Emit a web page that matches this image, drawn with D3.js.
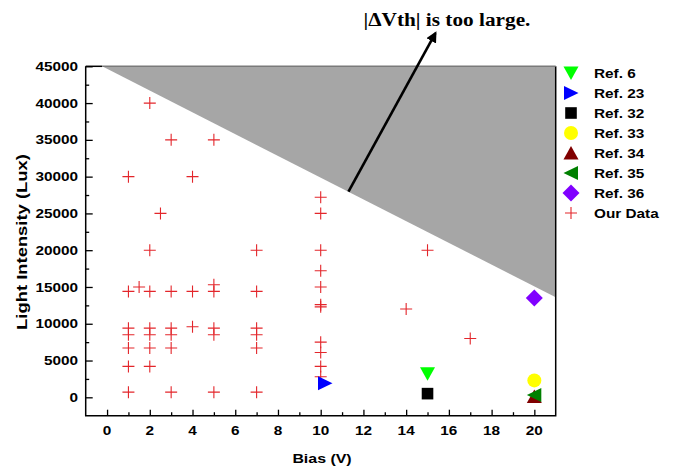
<!DOCTYPE html>
<html><head><meta charset="utf-8">
<script src="https://cdn.jsdelivr.net/npm/d3@7"></script>
<style>body{margin:0;background:#fff} svg{display:block}</style></head>
<body>
<script>
// ---- data ----
const xTickValues = [0, 2, 4, 6, 8, 10, 12, 14, 16, 18, 20];
const xMinorValues = [1, 3, 5, 7, 9, 11, 13, 15, 17, 19];
const yTickValues = [0, 5000, 10000, 15000, 20000, 25000, 30000, 35000, 40000, 45000];
const yMinorValues = [2500, 7500, 12500, 17500, 22500, 27500, 32500, 37500, 42500];

const ourDataX = [1,1,1,1,1,1,1, 1.5, 2,2,2,2,2,2,2, 2.5, 3,3,3,3,3,3, 4,4,4, 5,5,5,5,5,5, 7,7,7,7,7,7,
  10,10,10,10,10,10,10,10,10,10,10, 14, 15, 17];
const ourDataY = [30000,14400,9400,8500,6700,4200,700, 15000, 40000,20000,14400,9400,8500,6700,4200, 25000,
  35000,14400,9400,8500,6700,700, 30000,14400,9600, 35000,15300,14400,9400,8500,700,
  20000,14400,9400,8500,6700,700,
  27200,25000,20000,17200,15000,12600,12300,7500,6100,4200,2800, 12000, 20000, 8000];

const refNames = ["Ref. 6", "Ref. 23", "Ref. 32", "Ref. 33", "Ref. 34", "Ref. 35", "Ref. 36"];
const refX = [15, 10.2, 15, 20, 20, 20, 20];
const refY = [3200, 1900, 500, 2300, 100, 300, 13500];
const refColors = ["#00ff00", "#0000ff", "#000000", "#ffff00", "#800000", "#008000", "#8000ff"];
const refShapes = ["down", "right", "square", "circle", "up", "left", "diamond"];
const ourDataName = "Our Data";

const shadeX = [-0.23, 21, 21];
const shadeY = [45000, 45000, 13600];
const arrowX = [11.3, 15.37];
const arrowY = [27950, 49500];
const noteText = "|\u0394Vth| is too large.";

// ---- drawing ----
const W = 675, H = 468;
const svg = d3.select("body").append("svg").attr("width", W).attr("height", H);
const x = d3.scaleLinear().domain([-1, 21]).range([85.7, 555.7]);
const y = d3.scaleLinear().domain([-2500, 45000]).range([415.7, 66.3]);
const SX = 1.18;
const sans = "Arial, 'Liberation Sans', sans-serif";

function stext(px, py, str, o) {
  o = o || {};
  return svg.append("text")
    .attr("transform", `translate(${px},${py})${o.rot ? " rotate(" + o.rot + ")" : ""} scale(${o.sx || SX},1)`)
    .attr("text-anchor", o.anchor || "start")
    .attr("font-family", o.family || sans)
    .attr("font-weight", "bold")
    .attr("font-size", (o.size || 13) + "px")
    .attr("fill", "#000")
    .text(str);
}

// shaded region
svg.append("path")
  .attr("d", d3.line().x((d, i) => x(shadeX[i])).y((d, i) => y(shadeY[i]))(shadeX) + "Z")
  .attr("fill", "#a6a6a6");

// axes (ticks inward)
const xAxis = svg.append("g").attr("transform", `translate(0,${y.range()[0]})`)
  .call(d3.axisTop(x).tickValues(xTickValues).tickSize(6).tickFormat(""));
const xMinor = svg.append("g").attr("transform", `translate(0,${y.range()[0]})`)
  .call(d3.axisTop(x).tickValues(xMinorValues).tickSize(3.5).tickFormat(""));
const yAxis = svg.append("g").attr("transform", `translate(${x.range()[0]},0)`)
  .call(d3.axisRight(y).tickValues(yTickValues).tickSize(7).tickFormat(""));
const yMinor = svg.append("g").attr("transform", `translate(${x.range()[0]},0)`)
  .call(d3.axisRight(y).tickValues(yMinorValues).tickSize(3.5).tickFormat(""));
[xAxis, xMinor, yAxis, yMinor].forEach(g => {
  g.select(".domain").remove();
  g.selectAll("line").attr("stroke", "#000").attr("stroke-width", 1.3);
});

// frame
const x0 = x.range()[0], x1 = x.range()[1], y0 = y.range()[0], y1 = y.range()[1];
svg.append("path").attr("d", `M${x0},${y1}V${y0}H${x1}V${y1}`)
  .attr("fill", "none").attr("stroke", "#000").attr("stroke-width", 1.5);
svg.append("line").attr("x1", x0).attr("x2", x(shadeX[0])).attr("y1", y1).attr("y2", y1)
  .attr("stroke", "#000").attr("stroke-width", 1.5);
svg.append("line").attr("x1", x(shadeX[0])).attr("x2", x1).attr("y1", y1).attr("y2", y1)
  .attr("stroke", "#7a7a7a").attr("stroke-width", 1.5);

// tick labels
xTickValues.forEach(v => stext(x(v), 434.5, String(v), {anchor: "middle"}));
yTickValues.forEach(v => stext(78, y(v) + 4.6, String(v), {anchor: "end"}));

// axis titles
stext(322, 462.5, "Bias (V)", {anchor: "middle", size: 13.5});
stext(27, 242, "Light Intensity (Lux)", {anchor: "middle", size: 14.5, rot: -90, sx: 1.27});

// marker shapes
const shapePath = {
  down: "M-7.5,-6.5L7.5,-6.5L0,7Z",
  up: "M-7.5,6.5L7.5,6.5L0,-7Z",
  right: "M-7,-7L7.5,0L-7,7Z",
  left: "M7,-7L-7.5,0L7,7Z",
  square: "M-5.8,-5.8h11.6v11.6h-11.6Z",
  circle: "M7,0A7,7 0 1,1 -7,0A7,7 0 1,1 7,0Z",
  diamond: "M0,-8.5L8.5,0L0,8.5L-8.5,0Z"
};
const crossPath = "M-6,0H6M0,-6V6";

// our data
svg.append("g").selectAll("path").data(ourDataX).join("path")
  .attr("transform", (d, i) => `translate(${x(d)},${y(ourDataY[i])})`)
  .attr("d", crossPath).attr("fill", "none").attr("stroke", "#e3262b").attr("stroke-width", 1.1);

// reference points
svg.append("g").selectAll("path").data(refX).join("path")
  .attr("transform", (d, i) => `translate(${x(d)},${y(refY[i])})`)
  .attr("d", (d, i) => shapePath[refShapes[i]])
  .attr("fill", (d, i) => refColors[i]);

// arrow
svg.append("defs").append("marker").attr("id", "ah")
  .attr("viewBox", "0 0 10 10").attr("refX", 8).attr("refY", 5)
  .attr("markerWidth", 4.2).attr("markerHeight", 4.2).attr("orient", "auto")
  .append("path").attr("d", "M0,0L10,5L0,10Z").attr("fill", "#000");
svg.append("line")
  .attr("x1", x(arrowX[0])).attr("y1", y(arrowY[0]))
  .attr("x2", x(arrowX[1])).attr("y2", y(arrowY[1]))
  .attr("stroke", "#000").attr("stroke-width", 2.6).attr("marker-end", "url(#ah)");

stext(447, 26, noteText, {anchor: "middle", size: 19, sx: 1.12, family: "'Liberation Serif', 'Times New Roman', serif"});

// legend
const legX = 571, legTextX = 594, legY0 = 73, legDy = 20;
refNames.forEach((n, i) => {
  svg.append("path").attr("transform", `translate(${legX},${legY0 + i * legDy})`)
    .attr("d", shapePath[refShapes[i]]).attr("fill", refColors[i]);
  stext(legTextX, legY0 + i * legDy + 4.7, n);
});
const li = refNames.length;
svg.append("path").attr("transform", `translate(${legX},${legY0 + li * legDy})`)
  .attr("d", crossPath).attr("fill", "none").attr("stroke", "#e3262b").attr("stroke-width", 1.1);
stext(legTextX, legY0 + li * legDy + 4.7, ourDataName);
</script>
</body></html>
